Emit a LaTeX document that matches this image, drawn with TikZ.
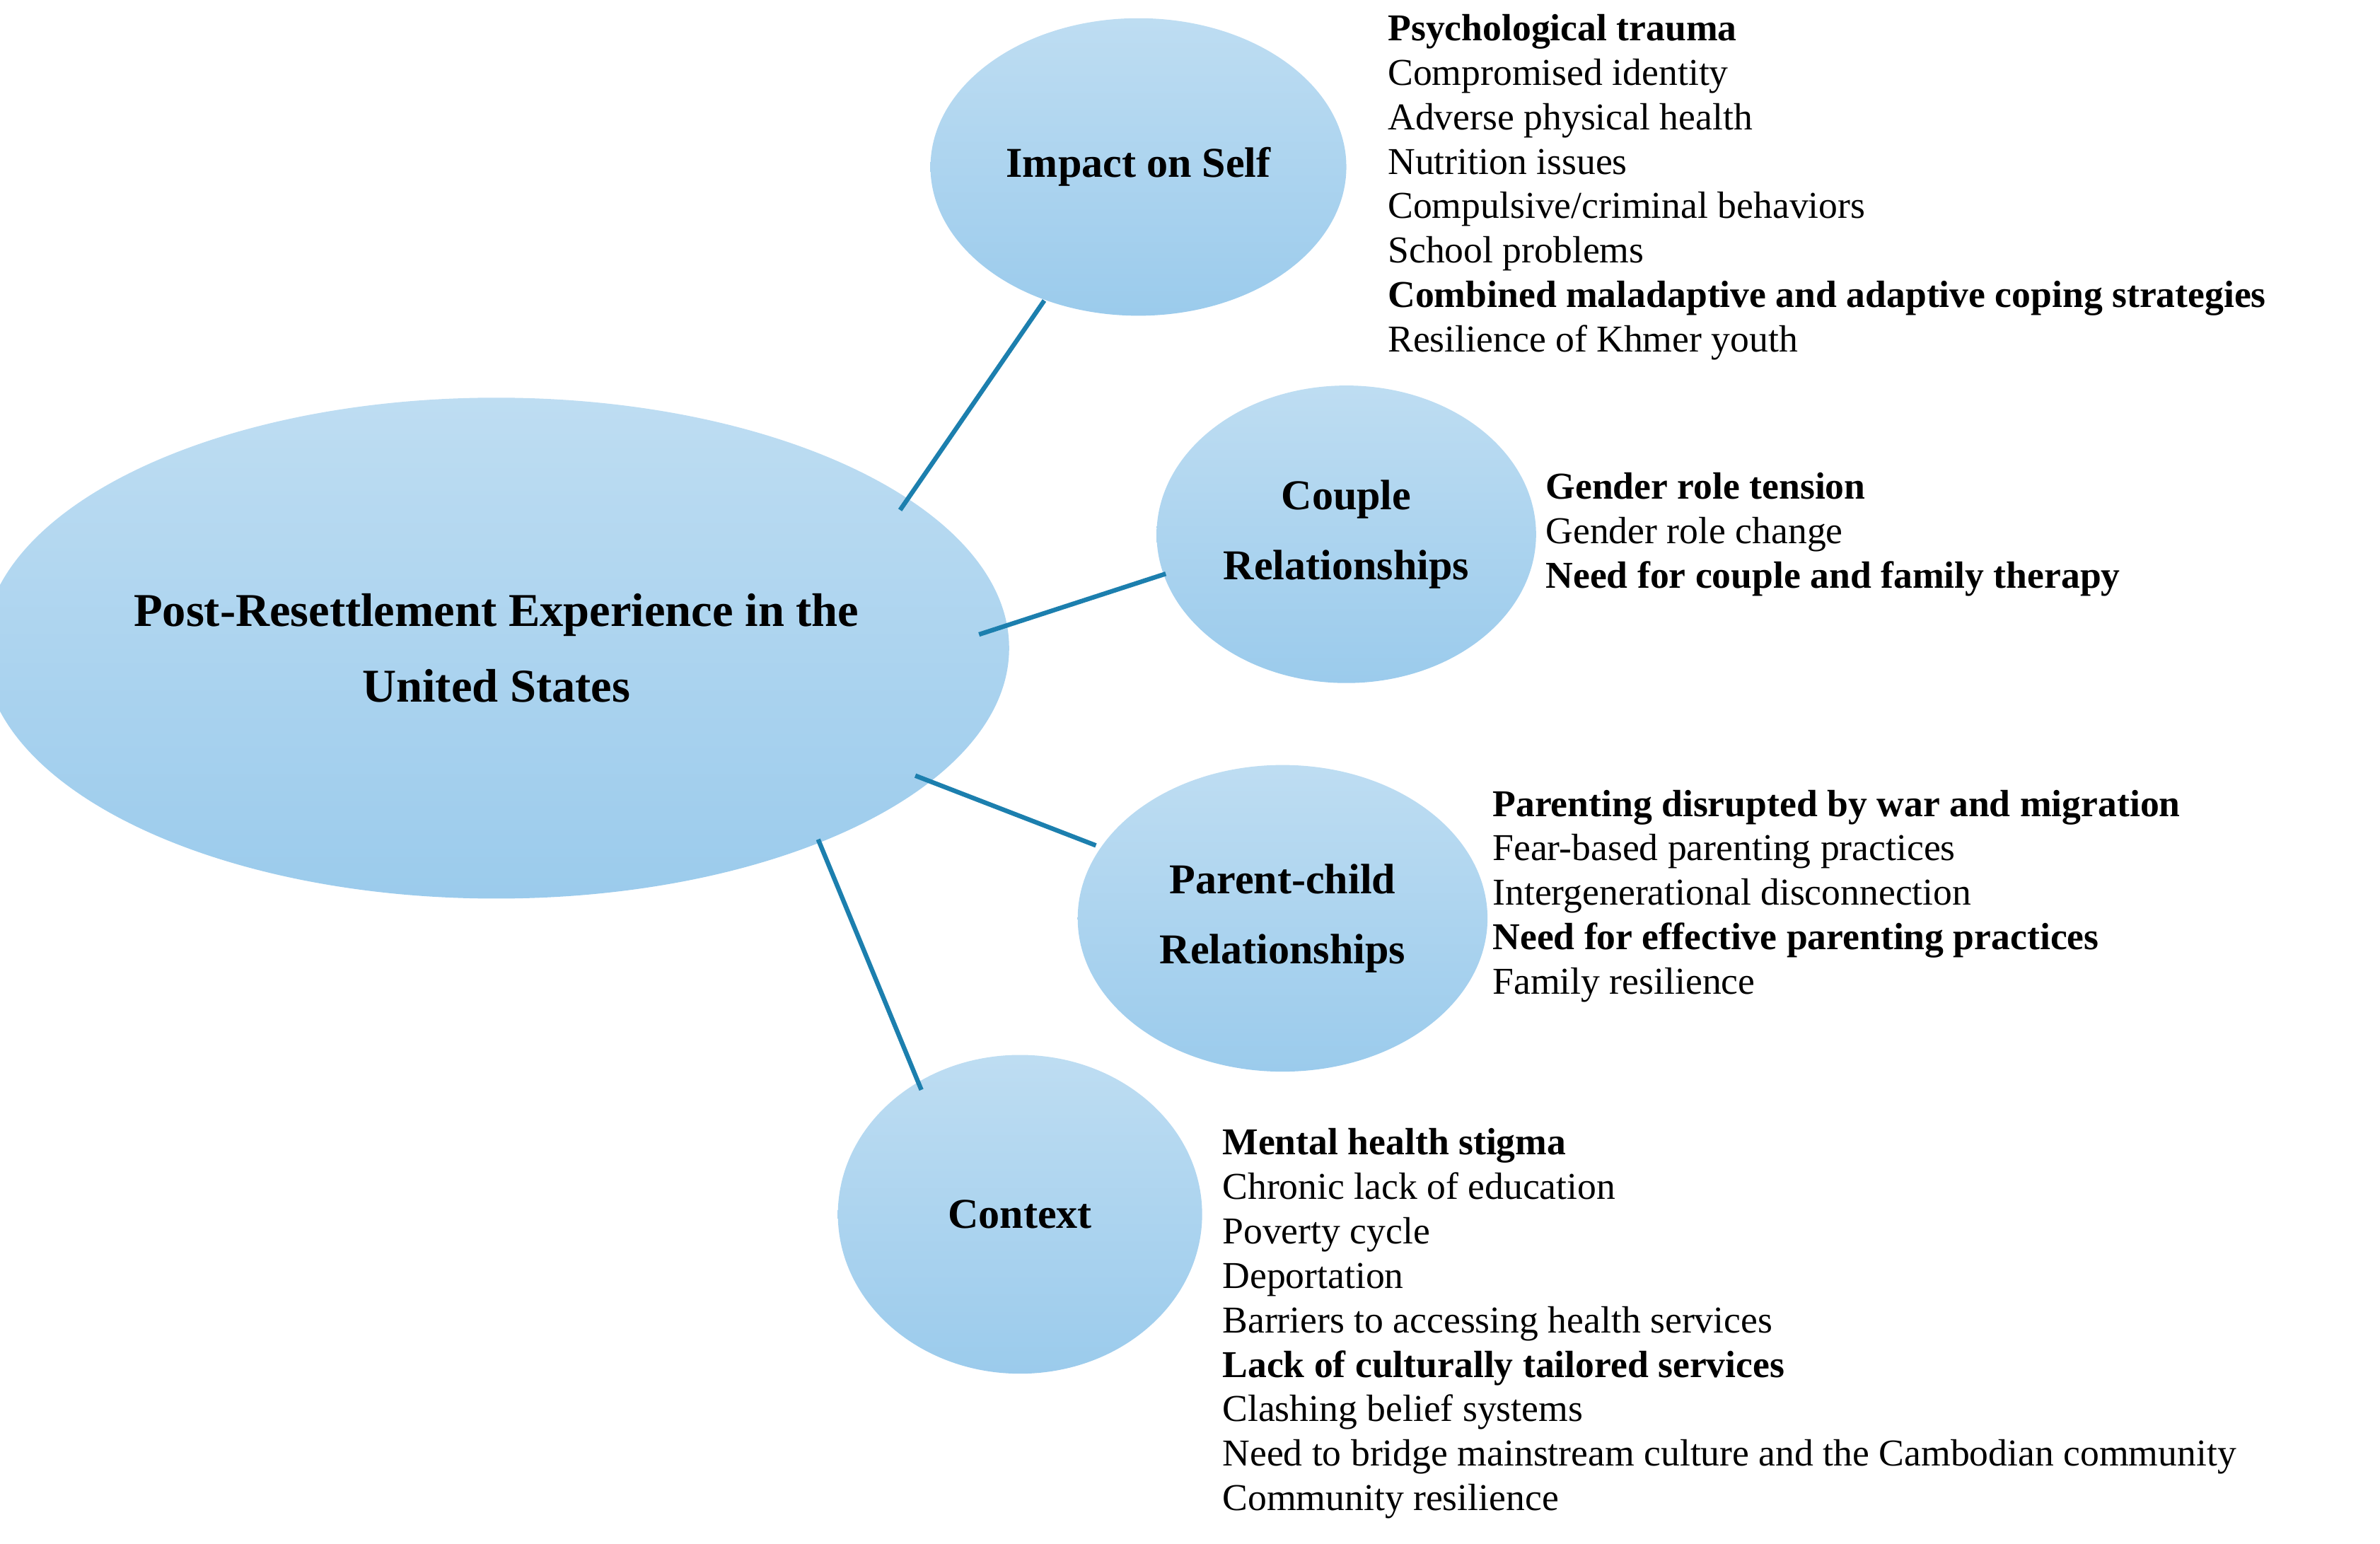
\documentclass[tikz,border=0pt]{standalone}
\usepackage{fontspec}
\setmainfont{Liberation Serif}
\usetikzlibrary{shapes.geometric}
\begin{document}
\begin{tikzpicture}[x=0.5pt,y=-0.5pt]
\definecolor{topc}{HTML}{BEDDF2}
\definecolor{botc}{HTML}{9BCBEC}
\definecolor{linec}{HTML}{1C7FAE}
\tikzset{bub/.style={ellipse,draw=none,top color=topc,bottom color=botc,inner sep=0pt,align=center,font=\bfseries\fontsize{14}{23}\selectfont},
  conn/.style={draw=linec,line width=1.5pt},
  lst/.style={anchor=north west,align=left,inner sep=0pt,font=\fontsize{12.5}{14.65}\selectfont}}
\useasboundingbox (0,0) rectangle (1568,1017);
\node[bub,minimum width=318pt,minimum height=165pt,font=\bfseries\fontsize{15.5}{25}\selectfont] (main) at (327,427) {Post-Resettlement Experience in the\\United States};
\node[bub,minimum width=137pt,minimum height=98pt] (self) at (750,110) {Impact on Self};
\node[bub,minimum width=125pt,minimum height=98pt] (couple) at (887,352) {Couple\\Relationships};
\node[bub,minimum width=135pt,minimum height=101pt] (parent) at (845,605) {Parent-child\\Relationships};
\node[bub,minimum width=120pt,minimum height=105pt] (ctx) at (672,800) {Context};
\draw[conn] (593,336) coordinate (a1) -- (688,198) coordinate (b1);
\draw[conn] (645,418) coordinate (a2) -- (768,378) coordinate (b2);
\draw[conn] (603,511) coordinate (a3) -- (722,557) coordinate (b3);
\draw[conn] (539,553) coordinate (a4) -- (607,718) coordinate (b4);
\node[lst] (l1) at (914,9) {\textbf{Psychological trauma}\\Compromised identity\\Adverse physical health\\Nutrition issues\\Compulsive/criminal behaviors\\School problems\\\textbf{Combined maladaptive and adaptive coping strategies}\\Resilience of Khmer youth};
\node[lst] (l2) at (1018,311) {\textbf{Gender role tension}\\Gender role change\\\textbf{Need for couple and family therapy}};
\node[lst] (l3) at (983,520) {\textbf{Parenting disrupted by war and migration}\\Fear-based parenting practices\\Intergenerational disconnection\\\textbf{Need for effective parenting practices}\\Family resilience};
\node[lst] (l4) at (805,743) {\textbf{Mental health stigma}\\Chronic lack of education\\Poverty cycle\\Deportation\\Barriers to accessing health services\\\textbf{Lack of culturally tailored services}\\Clashing belief systems\\Need to bridge mainstream culture and the Cambodian community\\Community resilience};
\end{tikzpicture}
\end{document}
